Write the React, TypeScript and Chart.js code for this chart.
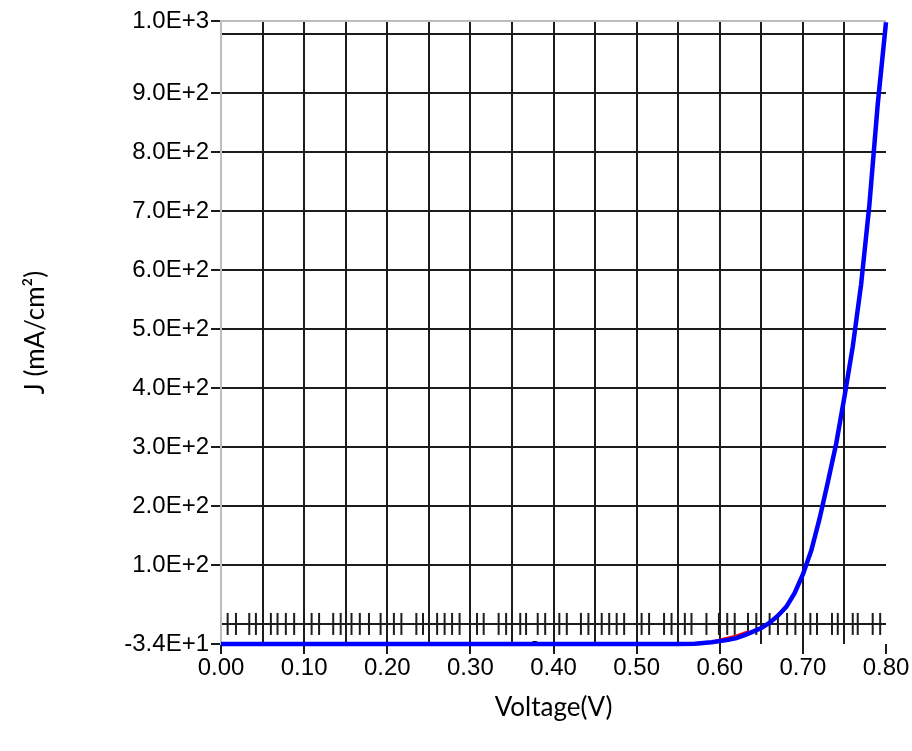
import React, { useEffect, useRef } from "react";
import { Chart, registerables } from "chart.js";

Chart.register(...registerables);

// ---- Data ----
const voltage = [
  0, 0.05, 0.1, 0.15, 0.2, 0.25, 0.3, 0.35, 0.4, 0.45, 0.5, 0.55, 0.57, 0.59,
  0.61, 0.62, 0.63, 0.64, 0.65, 0.66, 0.67, 0.68, 0.69, 0.7, 0.71, 0.72, 0.73,
  0.74, 0.75, 0.76, 0.77, 0.78, 0.79, 0.8,
];
const currentDensity = [
  -34, -34, -34, -34, -34, -34, -34, -34, -34, -34, -34, -34, -33.5, -31, -27,
  -24, -19, -13, -7, 2, 14, 29, 52, 84, 124, 178, 240, 305, 385, 470, 575, 710,
  880, 1020,
];

// faint red trace peeking above the blue curve
const redVoltage = [0.595, 0.6, 0.61, 0.62, 0.63, 0.635];
const redCurrent = [-28, -26.5, -23, -19.5, -14.5, -12];

// small black blip on the flat part
const blipVoltage = [0.372, 0.376, 0.379, 0.383];
const blipCurrent = [-34, -30.5, -30.5, -34];

// minor tick marks drawn on the zero line
const minorTickVoltage = [
  0.008, 0.018, 0.034, 0.042, 0.06, 0.068, 0.078, 0.088, 0.109, 0.118, 0.135,
  0.144, 0.157, 0.167, 0.178, 0.192, 0.208, 0.217, 0.235, 0.243, 0.26, 0.269,
  0.278, 0.287, 0.308, 0.316, 0.334, 0.343, 0.36, 0.367, 0.381, 0.39, 0.407,
  0.416, 0.433, 0.442, 0.458, 0.467, 0.476, 0.485, 0.506, 0.515, 0.533, 0.542,
  0.558, 0.566, 0.584, 0.599, 0.609, 0.618, 0.634, 0.644, 0.66, 0.67, 0.681,
  0.691, 0.709, 0.717, 0.735, 0.742, 0.76, 0.766, 0.784, 0.793,
];

const xTickValues = [
  0, 0.05, 0.1, 0.15, 0.2, 0.25, 0.3, 0.35, 0.4, 0.45, 0.5, 0.55, 0.6, 0.65,
  0.7, 0.75, 0.8,
];
const xTickLabels = [
  "0.00", "", "0.10", "", "0.20", "", "0.30", "", "0.40", "", "0.50", "",
  "0.60", "", "0.70", "", "0.80",
];

const yTickValues = [-34, 0, 100, 200, 300, 400, 500, 600, 700, 800, 900, 1000, 1022];
const yTickLabels = [
  "-3.4E+1", "", "1.0E+2", "2.0E+2", "3.0E+2", "4.0E+2", "5.0E+2", "6.0E+2",
  "7.0E+2", "8.0E+2", "9.0E+2", "", "1.0E+3",
];

const Y_MIN = -34;
const Y_MAX = 1022;
const X_MIN = 0;
const X_MAX = 0.8;

const tickFont = {
  family: "'Liberation Sans', Arial, sans-serif",
  size: 24,
};
const titleFont = { family: "Lato, 'Open Sans', sans-serif", size: 26 };

const GRID = "#1c1c1c";
const BORDER = "#bdbdbd";

export default function App() {
  const canvasRef = useRef<HTMLCanvasElement | null>(null);

  useEffect(() => {
    const canvas = canvasRef.current;
    if (!canvas) return;

    const chart = new Chart(canvas, {
      type: "line",
      data: {
        datasets: [
          {
            label: "J-V",
            data: voltage.map((v, i) => ({ x: v, y: currentDensity[i] })),
            borderColor: "#0000ff",
            borderWidth: 4.5,
            pointRadius: 0,
            tension: 0,
            fill: false,
            clip: false as any,
          },
          {
            label: "red",
            data: redVoltage.map((v, i) => ({ x: v, y: redCurrent[i] })),
            borderColor: "#ff0000",
            borderWidth: 2,
            pointRadius: 0,
            tension: 0,
            fill: false,
          },
          {
            label: "blip",
            data: blipVoltage.map((v, i) => ({ x: v, y: blipCurrent[i] })),
            borderColor: "#000000",
            borderWidth: 2,
            pointRadius: 0,
            tension: 0,
            fill: false,
          },
          {
            label: "minor ticks",
            data: minorTickVoltage.map((v) => ({ x: v, y: 0 })),
            showLine: false,
            pointStyle: "line",
            rotation: 90,
            pointRadius: 11,
            pointBorderWidth: 2,
            pointBorderColor: GRID,
            pointBackgroundColor: GRID,
            borderColor: GRID,
          } as any,
        ],
      },
      options: {
        responsive: false,
        animation: false,
        events: [],
        layout: { padding: { left: 20, right: 26, top: 21, bottom: 28 } },
        plugins: {
          legend: { display: false },
          tooltip: { enabled: false },
        },
        scales: {
          x: {
            type: "linear",
            min: X_MIN,
            max: X_MAX,
            afterBuildTicks: (s: any) => {
              s.ticks = xTickValues.map((v) => ({ value: v }));
            },
            afterFit: (s: any) => {
              s.height = 79;
            },
            ticks: {
              autoSkip: false,
              maxRotation: 0,
              color: "#000",
              font: tickFont,
              padding: 0,
              callback: (_v: any, i: number) => xTickLabels[i],
            },
            grid: {
              color: (ctx: any) =>
                ctx.index === 0 || ctx.index === xTickValues.length - 1 ? "rgba(0,0,0,0)" : GRID,
              lineWidth: 2,
              tickLength: 10,
              tickWidth: 2,
              tickColor: (ctx: any) => (xTickLabels[ctx.index] ? GRID : "rgba(0,0,0,0)"),
            },
            border: { display: false },
            title: {
              display: true,
              text: "Voltage(V)",
              color: "#000",
              font: titleFont,
              padding: { top: 0, bottom: 0 },
            },
          },
          y: {
            type: "linear",
            min: Y_MIN,
            max: Y_MAX,
            afterBuildTicks: (s: any) => {
              s.ticks = yTickValues.map((v) => ({ value: v }));
            },
            afterFit: (s: any) => {
              s.width = 201;
            },
            ticks: {
              autoSkip: false,
              color: "#000",
              font: tickFont,
              padding: 2,
              callback: (_v: any, i: number) => yTickLabels[i],
            },
            grid: {
              color: (ctx: any) => {
                if (ctx.index === 0) return "rgba(0,0,0,0)";
                if (ctx.index === yTickValues.length - 1) return BORDER;
                return GRID;
              },
              lineWidth: 2,
              tickLength: 10,
              tickWidth: 2,
              tickColor: (ctx: any) => (yTickLabels[ctx.index] ? GRID : "rgba(0,0,0,0)"),
            },
            border: { display: true, color: BORDER, width: 2 },
            title: {
              display: true,
              text: "J (mA/cm²)",
              color: "#000",
              font: titleFont,
              padding: { top: 0, bottom: 0 },
            },
          },
        },
      },
    });

    return () => chart.destroy();
  }, []);

  return (
    <div style={{ position: "absolute", left: 0, top: 0, width: 912, height: 751, background: "#fff" }}>
      <canvas ref={canvasRef} width={912} height={751} style={{ display: "block" }} />
    </div>
  );
}
